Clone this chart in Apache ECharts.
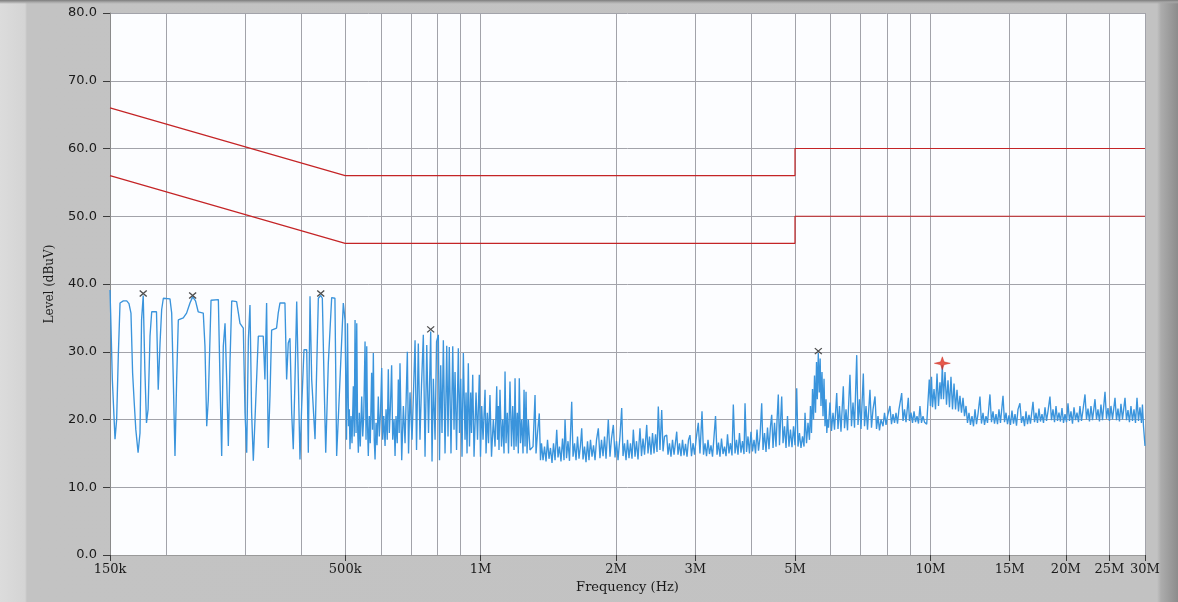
<!DOCTYPE html>
<html>
<head>
<meta charset="utf-8">
<title>Conducted emission scan</title>
<script src="https://cdn.jsdelivr.net/npm/echarts@6/dist/echarts.min.js"></script>
<style>
  html, body { margin: 0; padding: 0; background: #c2c2c2; }
  #chart {
    width: 1178px; height: 602px;
    background:
      linear-gradient(to bottom, #7c7c7c 0px, #a6a6a6 2px, rgba(194,194,194,0) 4px),
      linear-gradient(to right, #dcdcdc 0px, #d4d4d4 25px, #c3c3c3 27px, #c2c2c2 1157px, #acacac 1161px, #8c8c8c 1178px);
  }
</style>
</head>
<body>
<div id="chart"></div>
<script>
// Frequency axis (MHz): labelled ticks and the decade sub-grid
const freqTicks = [0.15, 0.5, 1, 2, 3, 5, 10, 15, 20, 25, 30];
const freqTickLabels = ['150k', '500k', '1M', '2M', '3M', '5M', '10M', '15M', '20M', '25M', '30M'];
const gridFreqs = [0.15, 0.2, 0.3, 0.4, 0.5, 0.6, 0.7, 0.8, 0.9, 1, 2, 3, 4, 5, 6, 7, 8, 9, 10, 15, 20, 25, 30];

// Limit lines [MHz, dBuV]
const qpLimit = [[0.15, 66], [0.5, 56], [5, 56], [5, 60], [30, 60]];
const avLimit = [[0.15, 56], [0.5, 46], [5, 46], [5, 50], [30, 50]];

// Marked peaks [MHz, dBuV]
const peakMarks = [[0.1778, 38.6], [0.2290, 38.3], [0.4412, 38.6], [0.7746, 33.3], [5.634, 30.1]];
const worstPeak = [[10.63, 28.3]];

// Measured spectrum [MHz, dBuV]
const spectrum = [
  [0.150, 39.1], [0.1505, 35.7], [0.1518, 25.9], [0.1539, 17.1], [0.1552, 20.0], [0.1565, 29.3],
  [0.1579, 37.2], [0.1606, 37.5], [0.1634, 37.5], [0.1653, 37.1], [0.1670, 35.7], [0.1684, 26.9],
  [0.1698, 22.5], [0.1712, 18.5], [0.1732, 15.1], [0.1749, 18.0], [0.1763, 34.7], [0.1778, 38.3],
  [0.1793, 27.4], [0.1808, 19.5], [0.1823, 21.5], [0.1841, 32.3], [0.1857, 35.9], [0.1903, 35.9],
  [0.1920, 24.4], [0.1938, 31.3], [0.1954, 36.2], [0.1971, 37.9], [0.2039, 37.8], [0.2057, 35.7],
  [0.2074, 25.9], [0.2092, 14.6], [0.2110, 25.9], [0.2128, 34.7], [0.2183, 35.0], [0.2220, 35.7],
  [0.2259, 37.2], [0.2290, 38.1], [0.2324, 37.5], [0.2356, 35.9], [0.2418, 35.7], [0.2439, 30.8],
  [0.2461, 19.0], [0.2481, 22.9], [0.2516, 37.6], [0.2612, 37.7], [0.2634, 25.9], [0.2657, 14.6],
  [0.2679, 30.8], [0.2703, 34.2], [0.2726, 25.9], [0.2749, 16.1], [0.2772, 28.3], [0.2797, 37.5],
  [0.2868, 37.4], [0.2918, 34.2], [0.2968, 33.5], [0.2994, 21.0], [0.3020, 15.1], [0.3046, 31.8],
  [0.3071, 36.9], [0.3097, 21.0], [0.3124, 13.9], [0.3151, 20.0], [0.3205, 32.3], [0.3287, 32.3],
  [0.3315, 25.9], [0.3344, 37.2], [0.3372, 15.8], [0.3402, 23.4], [0.3431, 33.2], [0.3519, 33.5],
  [0.3549, 35.7], [0.3581, 37.2], [0.3673, 37.2], [0.3705, 25.9], [0.3736, 31.3], [0.3769, 32.0],
  [0.3802, 21.0], [0.3833, 15.6], [0.3867, 25.9], [0.3901, 37.4], [0.3933, 25.9], [0.3967, 14.1],
  [0.4002, 22.0], [0.4049, 30.3], [0.4106, 30.3], [0.4140, 15.1], [0.4176, 38.2], [0.4212, 25.9],
  [0.4285, 17.1], [0.4358, 37.9], [0.4412, 38.3], [0.4448, 37.9], [0.4487, 25.9], [0.4526, 15.1],
  [0.4586, 28.3], [0.4666, 38.0], [0.4744, 37.9], [0.4786, 14.6], [0.4869, 25.9], [0.4952, 37.2],
  [0.4996, 34.7], [0.5034, 17.0], [0.5060, 34.2], [0.5086, 19.0], [0.5106, 21.5], [0.5124, 15.6],
  [0.5151, 20.5], [0.5178, 16.5], [0.5213, 24.9], [0.5237, 17.5], [0.5259, 34.7], [0.5286, 18.0],
  [0.5305, 34.2], [0.5326, 19.5], [0.5348, 15.1], [0.5375, 21.0], [0.5401, 16.0], [0.5441, 23.4],
  [0.5470, 17.5], [0.5498, 20.5], [0.5535, 31.5], [0.5563, 17.0], [0.5583, 30.8], [0.5606, 19.0],
  [0.5628, 14.6], [0.5657, 20.5], [0.5685, 16.5], [0.5725, 26.9], [0.5751, 18.5], [0.5775, 29.8],
  [0.5802, 17.0], [0.5826, 14.1], [0.5856, 19.5], [0.5885, 16.2], [0.5924, 23.4], [0.5954, 17.5],
  [0.5990, 21.0], [0.6028, 27.6], [0.6059, 17.0], [0.6091, 20.5], [0.6132, 16.1], [0.6163, 21.5],
  [0.6201, 17.0], [0.6235, 27.4], [0.6267, 18.0], [0.6304, 22.0], [0.6342, 28.0], [0.6377, 17.0],
  [0.6421, 20.0], [0.6454, 14.6], [0.6486, 20.5], [0.6526, 16.5], [0.6563, 25.9], [0.6592, 18.0],
  [0.6619, 28.3],
  [0.6678, 14.0], [0.6734, 22.0], [0.6793, 16.5], [0.6873, 30.0], [0.6915, 15.0], [0.6967, 24.0],
  [0.7040, 17.0], [0.7150, 31.7], [0.7204, 15.5], [0.7270, 31.2], [0.7332, 17.0], [0.7390, 25.0],
  [0.7459, 32.5], [0.7525, 14.5], [0.7591, 31.0], [0.7660, 18.0], [0.7746, 33.0], [0.7799, 13.8],
  [0.7852, 26.0], [0.7921, 17.0], [0.7982, 31.5], [0.8055, 32.5], [0.8103, 14.0], [0.8153, 28.0],
  [0.8208, 18.0], [0.8264, 31.7], [0.8336, 15.0], [0.8408, 30.9], [0.8464, 17.5], [0.8519, 30.7],
  [0.8594, 15.0], [0.8671, 30.8], [0.8729, 18.5], [0.8774, 27.0], [0.8842, 15.5], [0.8923, 30.5],
  [0.8977, 18.0], [0.9032, 26.0], [0.9093, 14.5], [0.9155, 29.8], [0.9235, 17.0], [0.9282, 24.0],
  [0.9329, 15.0], [0.9391, 28.3], [0.9447, 16.0], [0.9506, 24.0], [0.9546, 18.0], [0.9605, 26.6],
  [0.9670, 14.5], [0.9770, 24.0], [0.9844, 17.0], [0.9934, 26.6], [0.9995, 14.5], [1.0058, 22.0],
  [1.0126, 17.0], [1.0231, 24.4], [1.0283, 15.0], [1.0351, 21.0], [1.0414, 16.5], [1.0492, 23.6],
  [1.0575, 14.5], [1.0674, 20.0], [1.0768, 16.0], [1.0861, 24.9], [1.0905, 17.0], [1.0950, 22.0],
  [1.0988, 15.5], [1.1043, 24.4], [1.1130, 16.0], [1.1200, 20.0], [1.1275, 15.0], [1.1333, 27.1],
  [1.1391, 16.5], [1.1466, 21.0], [1.1536, 15.0], [1.1623, 25.6], [1.1715, 16.0], [1.1788, 22.0],
  [1.1867, 15.5], [1.1929, 26.1], [1.1990, 16.0], [1.2069, 21.0], [1.2130, 15.0], [1.2191, 26.1],
  [1.2266, 16.5], [1.2343, 20.0], [1.2427, 15.0], [1.2491, 24.4], [1.2555, 16.0], [1.2619, 24.1],
  [1.2683, 15.0], [1.2767, 20.0], [1.2876, 15.5], [1.3079, 16.0], [1.3214, 23.6], [1.3281, 15.0],
  [1.3383, 18.0], [1.3505, 20.9], [1.3588, 14.0],
  [1.3659, 16.5], [1.3766, 14.0], [1.3872, 16.0], [1.3979, 13.8], [1.4086, 17.0], [1.4193, 14.2],
  [1.4301, 15.8], [1.4414, 13.6], [1.4526, 16.5], [1.4639, 14.0], [1.4766, 18.5], [1.4863, 14.4],
  [1.4976, 16.0], [1.5092, 13.8], [1.5210, 17.2], [1.5329, 14.0], [1.5408, 20.0], [1.5526, 14.3],
  [1.5644, 16.8], [1.5763, 13.9], [1.5943, 22.6], [1.6051, 14.5], [1.6176, 16.5], [1.6300, 14.0],
  [1.6425, 17.5], [1.6549, 14.2], [1.6676, 16.2], [1.6780, 18.7], [1.6894, 14.1], [1.7024, 16.0],
  [1.7155, 13.7], [1.7287, 16.8], [1.7418, 14.0], [1.7551, 17.0], [1.7689, 14.5], [1.7827, 16.2],
  [1.7965, 14.0], [1.8103, 17.0], [1.8269, 18.7], [1.8425, 14.3], [1.8570, 17.0], [1.8715, 14.6],
  [1.8861, 17.5], [1.9006, 14.2], [1.9229, 20.0], [1.9393, 14.5], [1.9546, 17.2], [1.9729, 19.2],
  [1.9902, 14.4], [2.0055, 16.8], [2.0208, 14.0], [2.0411, 17.5], [2.0593, 21.7], [2.0733, 14.6],
  [2.0893, 16.5], [2.1054, 14.0], [2.1215, 17.0], [2.1376, 14.3], [2.1539, 16.5], [2.1709, 14.2],
  [2.1855, 18.5], [2.2047, 14.5], [2.2216, 16.8], [2.2385, 14.1], [2.2611, 18.7], [2.2789, 14.6],
  [2.2967, 17.2], [2.3146, 14.8], [2.3407, 19.2], [2.3561, 15.0], [2.3740, 17.5], [2.3924, 14.8],
  [2.4112, 18.0], [2.4299, 15.0], [2.4487, 17.8], [2.4674, 15.2], [2.4837, 21.9], [2.5049, 15.5],
  [2.5273, 21.4], [2.5444, 15.3], [2.5641, 17.5], [2.5931, 17.7], [2.6102, 14.8], [2.6299, 16.5],
  [2.6503, 14.5], [2.6711, 17.0], [2.6919, 14.8], [2.7292, 18.2], [2.7472, 14.8], [2.7680, 16.5],
  [2.7895, 14.6], [2.8114, 17.0], [2.8332, 14.7], [2.8551, 16.4], [2.8770, 14.5], [2.8988, 17.0],
  [2.9207, 17.7], [2.9437, 14.6], [2.9667, 16.5], [2.9897, 14.8], [3.0127, 17.0], [3.0480, 19.5],
  [3.0741, 15.0],
  [3.1064, 21.2], [3.1306, 14.8], [3.1548, 16.5], [3.1790, 14.6], [3.2032, 17.0], [3.2274, 14.9],
  [3.2525, 16.2], [3.2780, 14.5], [3.3035, 17.5], [3.3290, 20.5], [3.3545, 14.8], [3.3800, 16.6],
  [3.4055, 14.5], [3.4323, 17.2], [3.4591, 14.9], [3.4860, 16.0], [3.5128, 14.6], [3.5396, 17.8],
  [3.5664, 15.0], [3.5937, 16.5], [3.6220, 14.7], [3.6464, 22.2], [3.6785, 15.0], [3.7067, 17.0],
  [3.7349, 14.8], [3.7632, 18.0], [3.7924, 15.1], [3.8221, 16.8], [3.8518, 14.9], [3.8717, 22.4],
  [3.9014, 15.2], [3.9311, 17.5], [3.9608, 15.0], [3.9916, 18.2], [4.0229, 15.3], [4.0541, 17.0],
  [4.0854, 15.0], [4.1167, 18.5], [4.1480, 15.4], [4.1793, 17.3], [4.2166, 22.4], [4.2452, 15.5],
  [4.2781, 18.0], [4.3110, 15.2], [4.3439, 18.8], [4.3769, 15.6], [4.4104, 19.0], [4.4381, 20.7],
  [4.4681, 15.8], [4.5028, 19.5], [4.5374, 16.0], [4.5605, 19.8], [4.5906, 23.7], [4.6183, 16.2],
  [4.6420, 19.5], [4.6711, 23.4], [4.7028, 16.5], [4.7392, 19.0], [4.7757, 15.8], [4.8122, 20.5],
  [4.8487, 16.0], [4.8858, 18.5], [4.9242, 15.9], [4.9626, 19.0], [5.0010, 16.2], [5.0444, 24.6],
  [5.0777, 16.0], [5.1161, 18.0], [5.1558, 15.8], [5.1962, 17.5], [5.2367, 16.0], [5.2636, 21.0],
  [5.3040, 16.5], [5.3444, 19.5], [5.3848, 17.0], [5.4125, 22.0], [5.4408, 18.0], [5.4692, 24.5],
  [5.4975, 20.0], [5.5259, 26.5], [5.5542, 21.0], [5.5826, 28.5], [5.6053, 23.0], [5.6336, 29.8],
  [5.6620, 24.0], [5.6878, 29.0], [5.7116, 22.0], [5.7415, 27.0], [5.7713, 20.5], [5.8012, 26.0],
  [5.8310, 19.0], [5.8608, 23.0], [5.8847, 18.0], [5.9056, 20.0],
  [5.9355, 18.8], [5.9802, 22.5], [6.0273, 18.3], [6.0744, 21.0], [6.1215, 18.5], [6.1907, 23.9],
  [6.2315, 18.6], [6.2786, 22.0], [6.3274, 18.2], [6.4034, 24.9], [6.4431, 18.7], [6.4927, 21.5],
  [6.5423, 18.4], [6.6249, 26.6], [6.6771, 19.0], [6.7293, 22.5], [6.7815, 18.8], [6.8581, 29.5],
  [6.9033, 19.2], [6.9555, 23.0], [7.0095, 18.6], [7.0937, 26.8], [7.1377, 19.0], [7.1926, 22.0],
  [7.2476, 18.5], [7.3391, 24.4], [7.3969, 18.8], [7.4548, 21.5], [7.5319, 23.4], [7.5897, 18.6],
  [7.6475, 20.5], [7.7053, 18.4], [7.7652, 20.0], [7.8463, 19.0], [7.9072, 21.0], [7.9680, 19.2],
  [8.0289, 20.5], [8.1303, 22.0], [8.1944, 19.3], [8.2584, 20.8], [8.3225, 19.5], [8.3865, 21.0],
  [8.4506, 19.4], [8.5146, 21.5], [8.6337, 23.9], [8.6921, 19.8], [8.7595, 21.5], [8.8269, 19.6],
  [8.9303, 23.2], [8.9842, 19.8], [9.0540, 21.0], [9.1250, 19.5], [9.1959, 21.2], [9.2669, 19.6],
  [9.3379, 20.5], [9.4089, 19.4], [9.4798, 22.0], [9.5545, 19.5], [9.6291, 20.5], [9.7038, 19.6],
  [9.8133, 19.3], [9.8780, 19.5], [9.9427, 25.9],
  [10.004, 22.0], [10.056, 26.3], [10.109, 21.8], [10.187, 24.5], [10.266, 21.5], [10.345, 26.8],
  [10.423, 22.0], [10.502, 25.5], [10.568, 23.0], [10.629, 28.0], [10.695, 23.0], [10.777, 27.0],
  [10.860, 22.2], [10.943, 25.8], [11.026, 21.8], [11.111, 26.3], [11.198, 21.5], [11.286, 25.3],
  [11.373, 21.5], [11.460, 24.4], [11.547, 21.2], [11.634, 23.5], [11.725, 21.0], [11.817, 23.2],
  [11.909, 20.5], [12.000, 22.0], [12.092, 19.5],
  [12.184, 21.0], [12.277, 19.2], [12.373, 20.5], [12.470, 19.0], [12.566, 21.5], [12.663, 19.3],
  [12.759, 20.8], [12.888, 23.4], [12.989, 19.4], [13.091, 21.0], [13.192, 19.2], [13.294, 20.5],
  [13.396, 19.5], [13.565, 23.7], [13.672, 19.6], [13.779, 21.2], [13.885, 19.4], [13.992, 20.8],
  [14.099, 19.3], [14.206, 21.5], [14.315, 19.5], [14.502, 23.5], [14.615, 19.6], [14.727, 21.0],
  [14.840, 19.3], [14.952, 20.6], [15.067, 19.2], [15.185, 21.3], [15.303, 19.4], [15.422, 20.8],
  [15.540, 19.1], [15.659, 21.5], [15.816, 22.4], [15.941, 19.5], [16.066, 20.5], [16.190, 19.0],
  [16.315, 21.2], [16.439, 19.3], [16.564, 20.7], [16.691, 19.4], [16.909, 22.6], [17.041, 19.6],
  [17.172, 21.0], [17.303, 19.5], [17.434, 21.6], [17.567, 19.7], [17.705, 20.8], [17.843, 19.5],
  [17.982, 21.8], [18.120, 19.8], [18.258, 21.2], [18.442, 23.4], [18.587, 19.9], [18.732, 21.5],
  [18.878, 19.6], [19.023, 22.0], [19.168, 19.8], [19.313, 21.0], [19.461, 19.7], [19.614, 21.7],
  [19.767, 19.5], [19.920, 20.8], [20.073, 19.6], [20.226, 22.4], [20.379, 19.8], [20.537, 21.2],
  [20.698, 19.4], [20.859, 21.8], [21.020, 19.9], [21.181, 21.0], [21.342, 19.6], [21.503, 22.0],
  [21.672, 19.8], [21.842, 21.4], [22.067, 23.7], [22.237, 20.0], [22.406, 21.6], [22.576, 19.7],
  [22.751, 22.0], [22.929, 19.9], [23.226, 23.0], [23.405, 20.0], [23.583, 21.5], [23.761, 19.7],
  [23.946, 22.2], [24.133, 19.9], [24.446, 24.1], [24.634, 20.1], [24.822, 21.7], [25.009, 19.8],
  [25.203, 22.0], [25.401, 20.0], [25.730, 23.2], [25.928, 19.9], [26.125, 21.6], [26.323, 19.7],
  [26.527, 22.3], [26.735, 20.0], [27.082, 23.2], [27.290, 19.9], [27.497, 21.4], [27.705, 19.6],
  [27.920, 22.0], [28.139, 19.8], [28.358, 21.5], [28.577, 19.5], [28.796, 23.2], [29.014, 19.8],
  [29.233, 21.8], [29.460, 19.5], [29.610, 22.2], [29.770, 19.0], [30.000, 16.1]
];

const chart = echarts.init(document.getElementById('chart'), null, { renderer: 'canvas' });

const gridGray = '#a2a3aa';
const serif = 'DejaVu Serif';

function tickLabel(v) {
  let best = 0;
  for (let i = 1; i < freqTicks.length; i++) {
    if (Math.abs(Math.log(freqTicks[i] / v)) < Math.abs(Math.log(freqTicks[best] / v))) best = i;
  }
  return freqTickLabels[best];
}

// X-shaped peak marker
const crossPath = 'path://M0,0L10,10M10,0L0,10';
// Four-pointed star for the worst-case peak
const starPath = 'path://M0,-10L2.2,-2.2L10,0L2.2,2.2L0,10L-2.2,2.2L-10,0L-2.2,-2.2Z';

chart.setOption({
  animation: false,
  grid: {
    left: 110, right: 33, top: 13, bottom: 47,
    show: true, backgroundColor: '#fcfdff', borderWidth: 0
  },
  xAxis: [{
    type: 'log', logBase: 10, min: 0.15, max: 30,
    position: 'bottom',
    axisLine: { show: true, onZero: false, lineStyle: { color: '#9a9a9a', width: 1 } },
    axisTick: { show: true, customValues: freqTicks, length: 6, lineStyle: { color: '#3a3a3a', width: 1 } },
    axisLabel: {
      customValues: freqTicks, formatter: tickLabel, margin: 8,
      color: '#1a1a1a', fontFamily: serif, fontSize: 13
    },
    splitLine: { show: false },
    name: 'Frequency (Hz)', nameLocation: 'middle', nameGap: 26,
    nameTextStyle: { color: '#1a1a1a', fontFamily: serif, fontSize: 13 }
  }, {
    type: 'log', logBase: 10, min: 0.15, max: 30,
    position: 'top',
    axisLine: { show: false },
    axisTick: { show: false, customValues: gridFreqs },
    axisLabel: { show: false },
    splitLine: { show: true, lineStyle: { color: gridGray, width: 1 } }
  }],
  yAxis: {
    type: 'value', min: 0, max: 80, interval: 10,
    axisLine: { show: true, lineStyle: { color: '#8a8a8a', width: 1 } },
    axisTick: { show: true, length: 7, lineStyle: { color: '#3a3a3a', width: 1 } },
    axisLabel: {
      formatter: v => v.toFixed(1), margin: 13,
      color: '#1a1a1a', fontFamily: 'DejaVu Sans', fontSize: 13
    },
    splitLine: { show: true, lineStyle: { color: gridGray, width: 1 } },
    name: 'Level (dBuV)', nameLocation: 'middle', nameGap: 54, nameRotate: 90,
    nameTextStyle: { color: '#1a1a1a', fontFamily: serif, fontSize: 12 }
  },
  series: [{
    name: 'QP limit', type: 'line', data: qpLimit, xAxisIndex: 0,
    showSymbol: false, symbol: 'none', silent: true, z: 3,
    lineStyle: { color: '#c42426', width: 1.2 }
  }, {
    name: 'AV limit', type: 'line', data: avLimit, xAxisIndex: 0,
    showSymbol: false, symbol: 'none', silent: true, z: 3,
    lineStyle: { color: '#c42426', width: 1.2 }
  }, {
    name: 'Level', type: 'line', data: spectrum, xAxisIndex: 0,
    showSymbol: false, symbol: 'none', silent: true, z: 4, sampling: null,
    lineStyle: { color: '#3a94dc', width: 1.35 }
  }, {
    name: 'Peaks', type: 'scatter', data: peakMarks, xAxisIndex: 0,
    symbol: crossPath, symbolSize: [7, 6], silent: true, z: 6,
    itemStyle: { color: 'transparent', borderColor: '#222', borderWidth: 1.2 }
  }, {
    name: 'Worst peak', type: 'scatter', data: worstPeak, xAxisIndex: 0,
    symbol: starPath, symbolSize: [16, 13], silent: true, z: 7,
    itemStyle: { color: '#e0301e', borderColor: '#c8241a', borderWidth: 0.5 }
  }]
});
</script>
</body>
</html>
